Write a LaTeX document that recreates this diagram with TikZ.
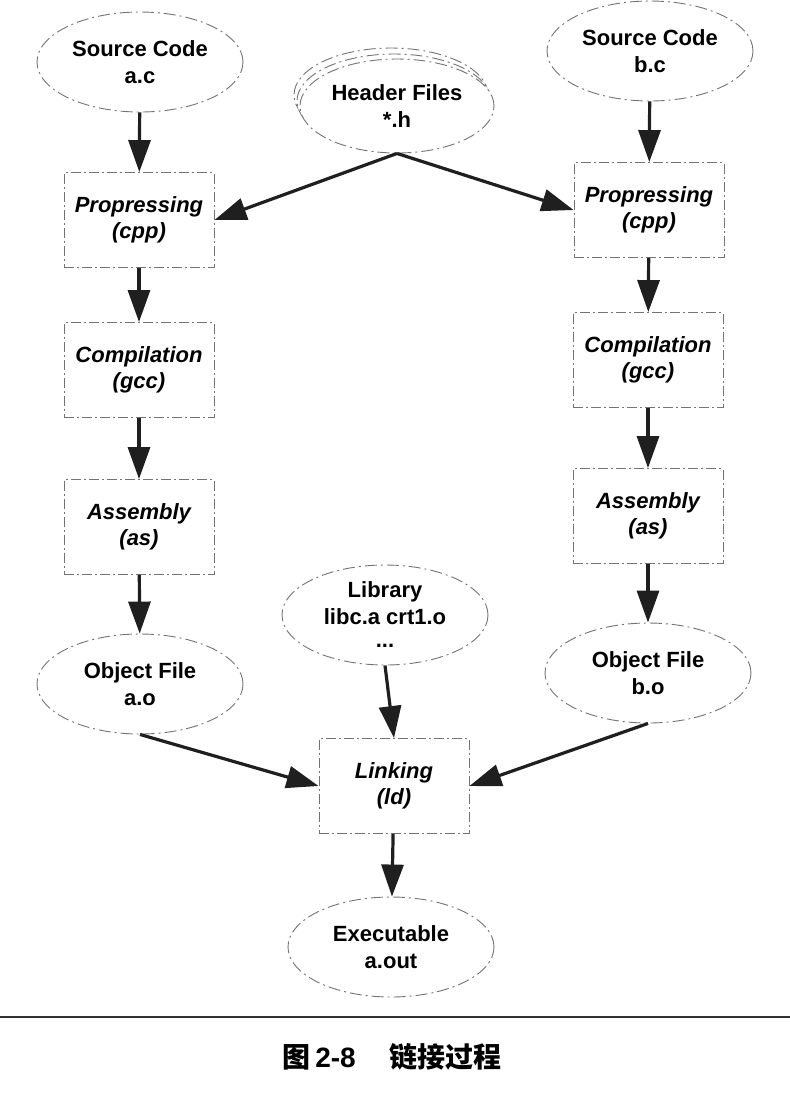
\documentclass[tikz,border=0pt]{standalone}
\usepackage{fontspec}
\setmainfont{Liberation Sans}
\newfontfamily\cjk{Noto Sans CJK SC}
\usetikzlibrary{arrows.meta,shapes.geometric}

\tikzset{
  filenode/.style={ellipse,draw=black!55,line width=0.45pt,
    dash pattern=on 6pt off 2pt on 1pt off 2pt,fill=white,
    minimum width=103pt,minimum height=50pt,inner sep=0pt,align=center,
    font=\fontsize{11}{13.5}\selectfont\bfseries},
  stagebox/.style={rectangle,draw=black!55,line width=0.45pt,
    dash pattern=on 5pt off 1.5pt on 1pt off 1.5pt,
    minimum width=75pt,minimum height=47.5pt,align=center,
    font=\fontsize{11}{13}\selectfont\bfseries\itshape},
  flow/.style={-{Triangle[length=16pt,width=11pt]},line width=1.6pt,black!88}
}

\begin{document}
\begin{tikzpicture}[x=0.5pt,y=-0.5pt]
  \useasboundingbox (0,0) rectangle (790,1094);

  % sources and headers
  \node[filenode] (srca) at (140,62) {Source Code\\a.c};
  \node[filenode,minimum width=97pt,minimum height=47pt] (hdrc) at (391,95) {};
  \node[filenode,minimum width=97pt,minimum height=47pt] (hdrb) at (394,101) {};
  \node[filenode,minimum width=97pt,minimum height=47pt] (hdr) at (397,106) {Header Files\\*.h};
  \node[filenode] (srcb) at (650,51) {Source Code\\b.c};

  % left chain
  \node[stagebox] (ppa) at (139,220) {Propressing\\(cpp)};
  \node[stagebox] (cca) at (139,370) {Compilation\\(gcc)};
  \node[stagebox] (asa) at (139,527) {Assembly\\(as)};
  \node[filenode] (obja) at (140,684) {Object File\\a.o};

  % right chain
  \node[stagebox] (ppb) at (649,210) {Propressing\\(cpp)};
  \node[stagebox] (ccb) at (648,360) {Compilation\\(gcc)};
  \node[stagebox] (asb) at (648,516) {Assembly\\(as)};
  \node[filenode] (objb) at (648,673) {Object File\\b.o};

  % linking
  \node[filenode] (lib) at (385,615) {Library\\libc.a crt1.o\\[-2pt]...};
  \node[stagebox] (link) at (394,786) {Linking\\(ld)};
  \node[filenode] (exe) at (391,947) {Executable\\a.out};

  \draw[flow] (srca) -- (ppa);
  \draw[flow] (ppa) -- (cca);
  \draw[flow] (cca) -- (asa);
  \draw[flow] (asa) -- (obja);
  \draw[flow] (srcb) -- (ppb);
  \draw[flow] (ppb) -- (ccb);
  \draw[flow] (ccb) -- (asb);
  \draw[flow] (asb) -- (objb);
  \draw[flow] (hdr.south) -- (ppa.east);
  \draw[flow] (hdr.south) -- (ppb.west);
  \draw[flow] (obja.south) -- (link.west);
  \draw[flow] (objb.south) -- (link.east);
  \draw[flow] (lib.south) -- (link.north);
  \draw[flow] (link) -- (exe);

  % caption
  \draw[line width=1.1pt,black!80] (0,1017) -- (790,1017);
  \node[font=\fontsize{14}{16}\selectfont\bfseries] (cap) at (392,1057)
    {{\cjk 图}\,2-8\hspace{1.2em}{\cjk 链接过程}};
\end{tikzpicture}
\end{document}
